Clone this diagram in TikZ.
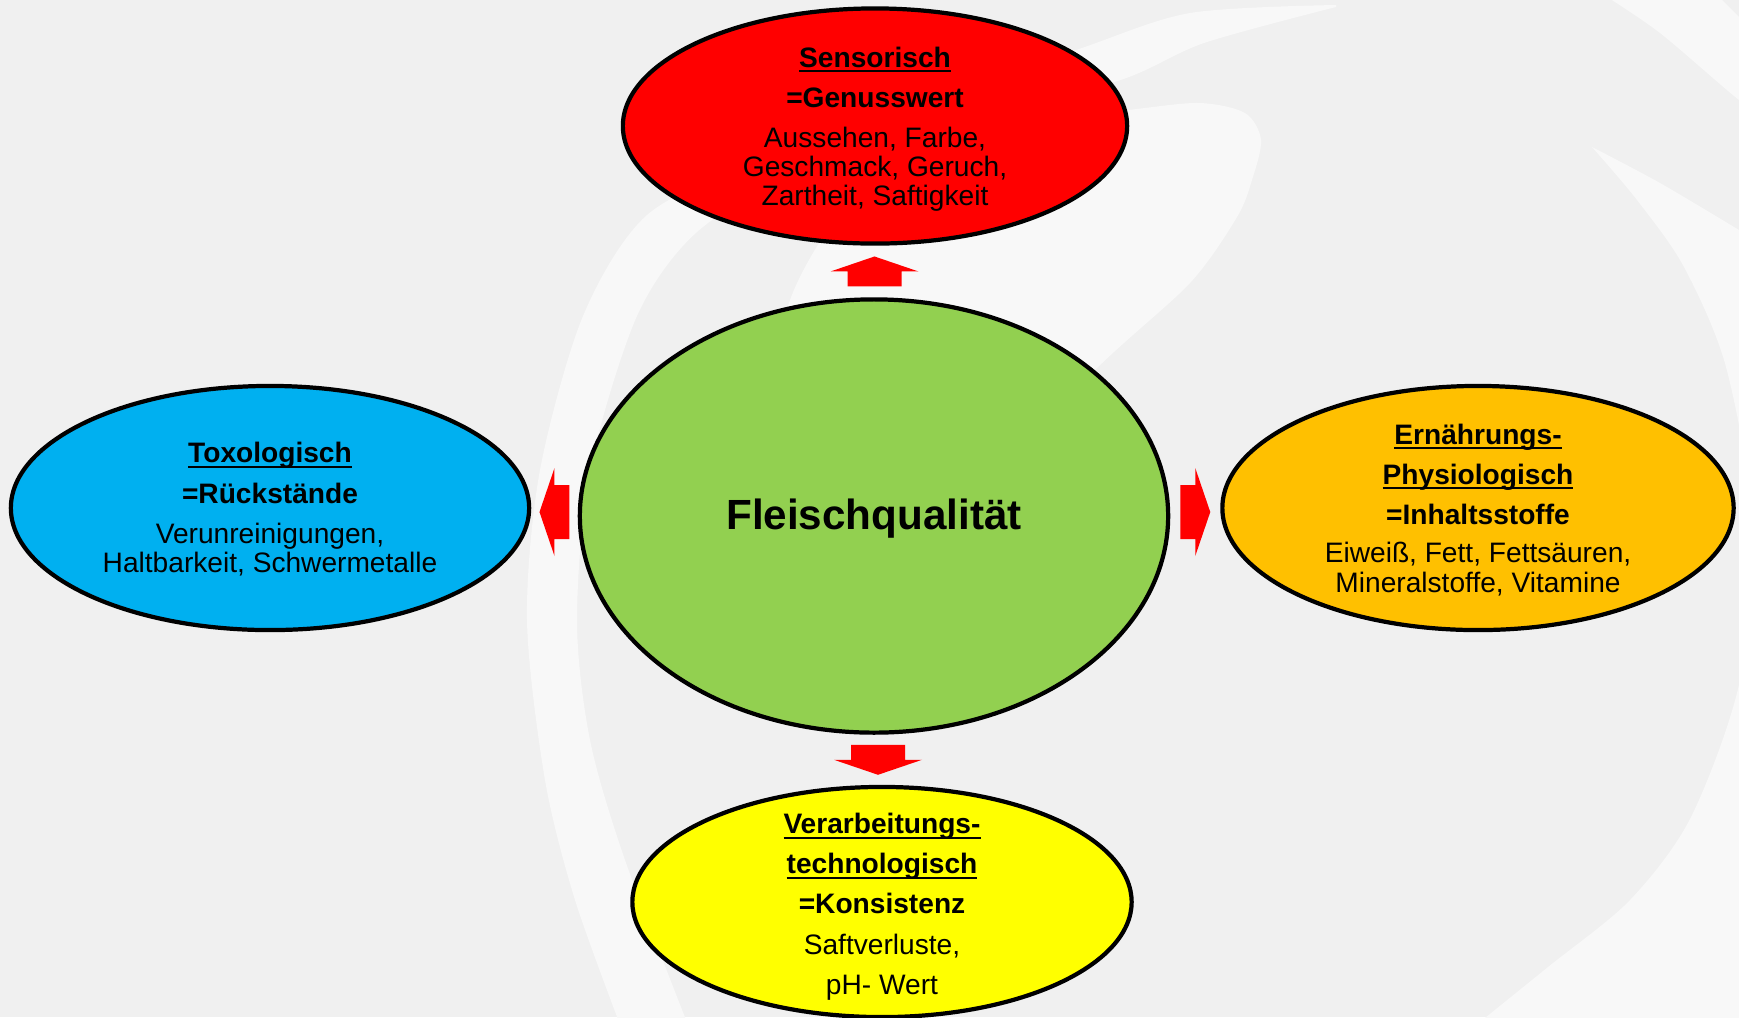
\documentclass[tikz,border=0pt]{standalone}
\usepackage{fontspec}
\setmainfont{Liberation Sans}
\usepackage{xcolor}
\usepackage{tikz}
\usetikzlibrary{calc}
\usetikzlibrary{shapes.geometric}

\definecolor{bggray}{HTML}{F0F0F0}
\definecolor{swirl}{HTML}{F8F8F8}
\definecolor{sensred}{HTML}{FF0000}
\definecolor{fqgreen}{HTML}{92D050}
\definecolor{toxblue}{HTML}{00B0F0}
\definecolor{ernorange}{HTML}{FFC000}
\definecolor{verarbyellow}{HTML}{FFFF00}

\newcommand{\headul}[1]{\setbox0\hbox{\textbf{#1}}\rlap{\rule[-1.5pt]{\wd0}{0.6pt}}\box0}

\begin{document}
\begin{tikzpicture}[x=0.01cm,y=-0.01cm,
	bubble/.style={ellipse,draw=black,line width=1.2pt,inner sep=0pt},
	bubbletext/.style={align=center,inner sep=0pt,font=\fontsize{8}{8.2}\selectfont},
	fatarrow/.style={fill=red}]
	\fill[bggray] (0,0) rectangle (1739,1017);
	\useasboundingbox (0,0) rectangle (1739,1017);
	\begin{scope}
		\clip (0,0) rectangle (1739,1017);
		\fill[swirl] plot[smooth] coordinates {(1336,5) (1190,13) (1076,50) (900,110) (760,160) (647,215) (583,316) (540,470) (527,620) (545,780) (575,900) (622,1030)}
			-- plot[smooth] coordinates {(690,1030) (625,860) (590,740) (577,620) (590,470) (637,316) (697,232) (800,170) (950,115) (1114,82) (1204,43) (1336,7)} -- cycle;
		\fill[swirl] plot[smooth cycle] coordinates {(1000,125) (1128,110) (1199,103) (1245,113) (1261,140) (1252,180) (1237,217) (1190,283) (1095,370) (950,520) (800,620) (760,450) (790,300) (850,200) (920,150)};
		\fill[swirl] plot[smooth] coordinates {(1592,147) (1637,200) (1684,267) (1726,367) (1752,520) (1740,680) (1691,817) (1630,900) (1548,967) (1470,1030)}
			-- (1800,1030) -- (1800,240) -- plot[smooth] coordinates {(1739,230) (1660,183) (1592,147)} -- cycle;
		\fill[swirl] plot[smooth] coordinates {(1604,-5) (1660,33) (1739,100) (1760,110)} -- (1760,20) -- plot[smooth] coordinates {(1739,17) (1717,-5)} -- cycle;
	\end{scope}

	\node[bubble,fill=fqgreen,minimum width=5.88cm,minimum height=4.33cm] (fq) at (874,516) {};
	\node[bubble,fill=sensred,minimum width=5.04cm,minimum height=2.35cm] (sens) at (875,126) {};
	\node[bubble,fill=toxblue,minimum width=5.18cm,minimum height=2.44cm] (tox) at (270,508) {};
	\node[bubble,fill=ernorange,minimum width=5.11cm,minimum height=2.44cm] (ern) at (1478,508) {};
	\node[bubble,fill=verarbyellow,minimum width=4.99cm,minimum height=2.30cm] (verarb) at (882,902) {};

	\node[inner sep=0pt,font=\fontsize{12}{14}\selectfont\bfseries] (fq-txt) at ($(fq)+(0,3)$) {Fleischqualität};
	\node[bubbletext] (sens-txt) at ($(sens)+(0,3)$) {\headul{Sensorisch}\\[3.2pt]\textbf{=Genusswert}\\[3.4pt]Aussehen, Farbe,\\Geschmack, Geruch,\\Zartheit, Saftigkeit};
	\node[bubbletext] (tox-txt) at ($(tox)+(0,1)$) {\headul{Toxologisch}\\[3.4pt]\textbf{=Rückstände}\\[3.2pt]Verunreinigungen,\\Haltbarkeit, Schwermetalle};
	\node[bubbletext] (ern-txt) at ($(ern)+(0,2)$) {\headul{Ernährungs-}\\[3.2pt]\headul{Physiologisch}\\[3.2pt]\textbf{=Inhaltsstoffe}\\[2.8pt]Eiweiß, Fett, Fettsäuren,\\[0.3pt]Mineralstoffe, Vitamine};
	\node[bubbletext] (verarb-txt) at ($(verarb)+(0,5)$) {\headul{Verarbeitungs-}\\[3.2pt]\headul{technologisch}\\[3.2pt]\textbf{=Konsistenz}\\[3.4pt]Saftverluste,\\[3.2pt]pH- Wert};

	\foreach \t/\a/\b in {sens/90/270,tox/180/0,ern/0/180,verarb/270/90}{
		\coordinate (m-\t) at ($(fq.\a)!0.5!(\t.\b)$);
		\fill[fatarrow,shift={(m-\t)},rotate=\a] (-15,-27) -- (0,-27) -- (0,-44) -- (15,0) -- (0,44) -- (0,27) -- (-15,27) -- cycle;
	}
\end{tikzpicture}
\end{document}
